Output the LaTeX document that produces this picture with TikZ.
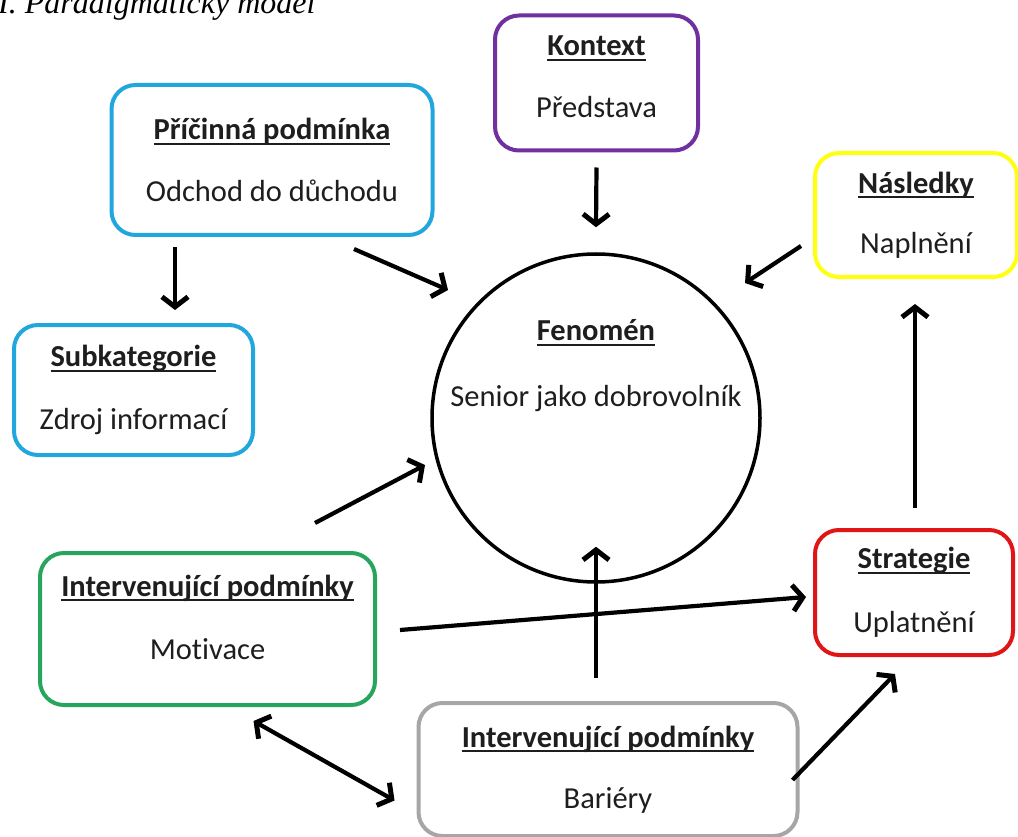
\documentclass[tikz,border=0pt]{standalone}
\usepackage{fontspec}
\setmainfont[Ligatures=NoCommon]{Carlito}
\newfontfamily\titlefont{Liberation Serif}
\usetikzlibrary{arrows.meta,calc}
\definecolor{cpurple}{HTML}{7030A0}
\definecolor{ccyan}{HTML}{22A6DE}
\definecolor{cyellow}{HTML}{FFFF10}
\definecolor{cred}{HTML}{E01515}
\definecolor{cgreen}{HTML}{28A55C}
\definecolor{cgray}{HTML}{A6A6A6}
\definecolor{ctext}{HTML}{1E1E1E}
\newsavebox{\hdbox}
\newcommand{\hd}[1]{\sbox{\hdbox}{\textbf{#1}}\rlap{\rule[-5pt]{\wd\hdbox}{1.8pt}}\usebox{\hdbox}}
\tikzset{
  box/.style={draw, line width=4pt, rounded corners=24pt, align=center,
    inner sep=0pt, text=ctext,
    font=\fontsize{30.5}{36}\selectfont},
  arr/.style={line width=4.2pt, -{Straight Barb[length=10pt,width=26pt,line width=5pt]}},
  dbl/.style={line width=4.2pt, {Straight Barb[length=10pt,width=26pt,line width=5pt]}-{Straight Barb[length=10pt,width=26pt,line width=5pt]}}
}
\begin{document}
\begin{tikzpicture}[x=1pt,y=-1pt]
\useasboundingbox (0,0) rectangle (1018,837);
\node[anchor=base east, font=\titlefont\itshape\fontsize{32}{38}\selectfont] (title) at (319,14) {I. Paradigmatický model};

\node[box, draw=cpurple, minimum width=203pt, minimum height=135pt] (kontext) at (596.5,83) {\hd{Kontext}\\[26pt]Představa\\[-24pt]\mbox{}};
\node[box, draw=ccyan, minimum width=321pt, minimum height=150pt] (pricinna) at (272,160) {\hd{Příčinná podmínka}\\[26pt]Odchod do důchodu};
\node[box, draw=cyellow, minimum width=202pt, minimum height=124pt] (nasledky) at (916,215) {\hd{Následky}\\[24pt]Naplnění};
\node[box, draw=ccyan, minimum width=239pt, minimum height=130pt] (subkat) at (133.5,390) {\hd{Subkategorie}\\[27pt]Zdroj informací};
\node[draw, circle, line width=3.5pt, minimum size=328pt, inner sep=-60pt, align=center, text=ctext, font=\fontsize{30.5}{36}\selectfont] (fen) at (596,418) {\hd{Fenomén}\\[30pt]Senior jako dobrovolník\\[74pt]\mbox{}};
\node[box, draw=cgreen, minimum width=335pt, minimum height=152pt] (green) at (207.5,629) {\hd{Intervenující podmínky}\\[27pt]Motivace\\[-12pt]\mbox{}};
\node[box, draw=cred, minimum width=198pt, minimum height=125pt] (strat) at (914,592.5) {\hd{Strategie}\\[28pt]Uplatnění};
\node[box, draw=cgray, minimum width=379pt, minimum height=133pt] (gray) at (608,769.5) {\hd{Intervenující podmínky}\\[25pt]Bariéry};

\draw[arr] ($(kontext.south)+(0,15)$) -- ($(fen.north)+(0,-25)$);
\draw[arr] ($(pricinna.south)+(-97,10)$) -- ($(subkat.north)+(41.5,-13)$);
\draw[arr] ($(pricinna.south)+(82,12)$) -- ($(fen.center)+(-148,-128)$);
\draw[arr] ($(nasledky.west)+(-12,31)$) -- ($(fen.center)+(149,-135)$);
\draw[arr] ($(strat.north)+(1,-20)$) -- ($(nasledky.south)+(-1,25)$);
\draw[arr] ($(green.north)+(107.5,-28)$) -- ($(fen.center)+(-171,47)$);
\draw[arr] ($(green.east)+(23,1)$) -- ($(strat.west)+(-7,4.5)$);
\draw[arr] ($(gray.north)+(-12,-23)$) -- ($(fen.south)+(0,-37)$);
\draw[arr] ($(gray.east)+(-7,10.5)$) -- ($(strat.south)+(-19,17)$);
\draw[dbl] ($(green.south)+(46,14)$) -- ($(gray.west)+(-22,31)$);
\end{tikzpicture}
\end{document}
